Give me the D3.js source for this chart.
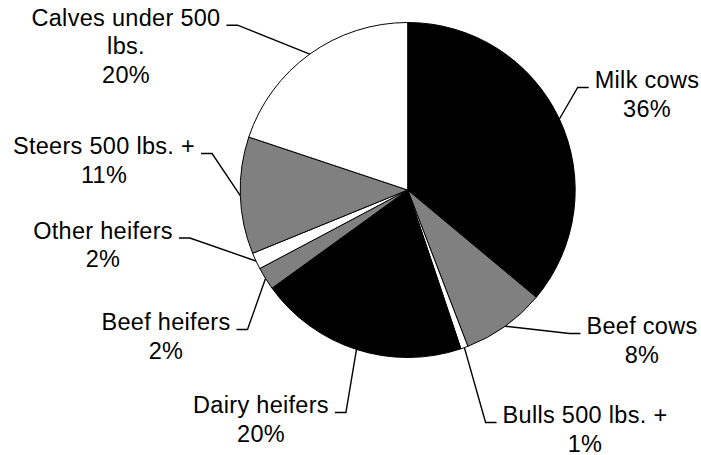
<!DOCTYPE html>
<html>
<head>
<meta charset="utf-8">
<script src="https://cdn.jsdelivr.net/npm/d3@7/dist/d3.min.js"></script>
<style>
  html, body { margin: 0; padding: 0; background: #fff; }
  svg { display: block; }
  text { font-family: "Liberation Sans", Arial, sans-serif; font-size: 23.5px; fill: #000; letter-spacing: 0.3px; }
</style>
</head>
<body>
<svg id="chart" width="701" height="455"></svg>
<script>
// ---- data ----
const categories = ["Milk cows", "Beef cows", "Bulls 500 lbs. +", "Dairy heifers",
                    "Beef heifers", "Other heifers", "Steers 500 lbs. +", "Calves under 500 lbs."];
const values = [36.1, 8.1, 0.7, 20.2, 2.2, 1.6, 11.3, 19.9];
const fills = ["#000000", "#808080", "#ffffff", "#000000", "#808080", "#ffffff", "#808080", "#ffffff"];

// ---- layout (label anchors: centre x, first baseline y; leader side) ----
const labelX = [647, 642, 585, 261, 166, 103, 104, 126];
const labelY = [88, 334, 423, 413, 330, 238.5, 154, 25.7];
const leaderSide = ["left", "left", "left", "right", "right", "right", "right", "right"];

const W = 701, H = 455;
const cx = 407.7, cy = 190, R = 167.5;
const lineH = 28.5, wrapWidth = 200, gap = 6, elbowLen = 11;

const svg = d3.select("#chart");
const total = d3.sum(values);
const data = categories.map((c, i) => ({ name: c, value: values[i], fill: fills[i], i }));

const pie = d3.pie().value(d => d.value).sort(null).startAngle(0).endAngle(2 * Math.PI);
const arcs = pie(data);
const arc = d3.arc().innerRadius(0).outerRadius(R);
const edgeArc = d3.arc().innerRadius(R).outerRadius(R);

const g = svg.append("g").attr("transform", `translate(${cx},${cy})`);
g.selectAll("path.slice").data(arcs).enter().append("path")
  .attr("class", "slice")
  .attr("d", arc)
  .attr("fill", d => d.data.fill)
  .attr("stroke", "#000")
  .attr("stroke-width", 1)
  .attr("stroke-linejoin", "round");

// labels
const labels = svg.append("g");
arcs.forEach(a => {
  const i = a.data.i;
  const t = labels.append("text").attr("text-anchor", "middle");
  const words = a.data.name.split(" ");
  const lines = [];
  let cur = "";
  const probe = svg.append("text").attr("visibility", "hidden");
  words.forEach(w => {
    const test = cur ? cur + " " + w : w;
    probe.text(test);
    if (probe.node().getComputedTextLength() > wrapWidth && cur) { lines.push(cur); cur = w; }
    else cur = test;
  });
  lines.push(cur);
  probe.remove();
  lines.push(d3.format(".0f")(a.data.value / total * 100) + "%");
  lines.forEach((ln, k) => {
    t.append("tspan").attr("x", labelX[i]).attr("y", labelY[i] + k * lineH).text(ln);
  });
  const firstW = t.select("tspan").node().getComputedTextLength();
  const ly = labelY[i] - 0.5;
  let endX, elbowX;
  if (leaderSide[i] === "left") {
    endX = labelX[i] - firstW / 2 - gap;
    elbowX = endX - elbowLen;
  } else {
    endX = labelX[i] + firstW / 2 + gap;
    elbowX = endX + elbowLen;
  }
  const c = edgeArc.centroid(a);
  const pts = [[cx + c[0], cy + c[1]], [elbowX, ly], [endX, ly]];
  labels.append("path")
    .attr("d", d3.line()(pts))
    .attr("fill", "none")
    .attr("stroke", "#000")
    .attr("stroke-width", 1.4);
});
</script>
</body>
</html>
